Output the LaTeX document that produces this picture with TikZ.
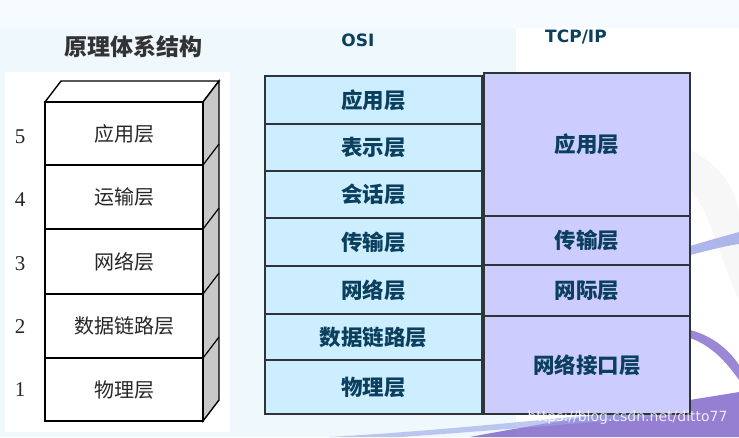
\documentclass[tikz,border=0pt]{standalone}
\usepackage{fontspec}
\newfontfamily\cjk{Noto Sans CJK SC}
\newfontfamily\latin{DejaVu Sans}
\newfontfamily\serifnum{Liberation Serif}
\definecolor{bgblue}{HTML}{EEF8FD}
\definecolor{osifill}{HTML}{CCEEFF}
\definecolor{tcpfill}{HTML}{CCCCFF}
\definecolor{txtdark}{HTML}{0B3F5E}
\definecolor{edgegray}{HTML}{2E3438}
\definecolor{sidegray}{HTML}{C8C8C8}
\definecolor{swoosha}{HTML}{9AA6E6}
\definecolor{swooshb}{HTML}{7B5FC9}
\tikzset{
  osibox/.style={draw=edgegray, line width=1.1pt, fill=osifill, minimum width=217pt, inner sep=0pt,
     font=\cjk\bfseries\fontsize{21.5}{21.5}\selectfont, text=txtdark},
  tcpbox/.style={draw=edgegray, line width=1.1pt, fill=tcpfill, minimum width=206pt, inner sep=0pt,
     font=\cjk\bfseries\fontsize{21.5}{21.5}\selectfont, text=txtdark},
  layerbox/.style={draw=black, line width=1.4pt, fill=white, minimum width=158pt, inner sep=0pt,
     font=\cjk\fontsize{20}{20}\selectfont, text=black!85},
  numlbl/.style={font=\serifnum\fontsize{21}{21}\selectfont, text=black!85},
  header/.style={font=\latin\bfseries\fontsize{17}{17}\selectfont, text=txtdark}
}
\begin{document}
\begin{tikzpicture}[x=1pt,y=-1pt]
\useasboundingbox (0,0) rectangle (739,437);
% background
\fill[bgblue] (0,0) rectangle (739,437);
\fill[white!40!bgblue] (0,0) rectangle (739,28);
\fill[white] (516,28) rectangle (739,437);
\fill[black!3] (690,150) .. controls (730,170) and (739,200) .. (739,220) -- (739,300) .. controls (720,260) and (710,210) .. (690,190) -- cycle;
% swooshes
\fill[swoosha, opacity=0.8] (690,246) .. controls (710,240) and (725,236) .. (739,232) -- (739,244) .. controls (725,246) and (710,250) .. (690,255) -- cycle;
\fill[swooshb, opacity=0.75] (690,330) .. controls (710,335) and (728,348) .. (739,365) -- (739,380) .. controls (725,360) and (710,345) .. (690,338) -- cycle;
\fill[swooshb, opacity=0.8] (470,437) .. controls (560,420) and (660,405) .. (739,392) -- (739,437) -- cycle;
\fill[swoosha, opacity=0.6] (330,437) .. controls (450,430) and (560,418) .. (690,405) -- (690,414) .. controls (560,425) and (460,433) .. (400,437) -- cycle;

% left: principle architecture
\node[font=\cjk\bfseries\fontsize{23}{23}\selectfont, text=black!80] (title) at (133,47) {原理体系结构};
\fill[white] (5,72) rectangle (230,432);
\filldraw[fill=white, draw=black, line width=1.4pt] (45,102) -- (61,81) -- (219,81) -- (203,102) -- cycle;
\filldraw[fill=sidegray, draw=black, line width=1.4pt] (203,102) -- (219,81) -- (219,400) -- (203,421) -- cycle;
\foreach \yy in {165,229,294,358}{
  \draw[black, line width=1.2pt] (203,\yy) -- (219,\yy-21);
}
\node[layerbox, minimum height=63pt] (r5) at (124,133.5) {应用层};
\node[layerbox, minimum height=64pt] (r4) at (124,197) {运输层};
\node[layerbox, minimum height=65pt] (r3) at (124,261.5) {网络层};
\node[layerbox, minimum height=64pt] (r2) at (124,326) {数据链路层};
\node[layerbox, minimum height=63pt] (r1) at (124,389.5) {物理层};
\node[numlbl] (n5) at (20,137) {5};
\node[numlbl] (n4) at (20,200) {4};
\node[numlbl] (n3) at (20,264) {3};
\node[numlbl] (n2) at (20,327) {2};
\node[numlbl] (n1) at (20,390) {1};

% OSI
\node[header] (osi) at (358,40) {OSI};
\node[osibox, minimum height=48pt] (o7) at (373.5,100) {应用层};
\node[osibox, minimum height=47pt] (o6) at (373.5,147.5) {表示层};
\node[osibox, minimum height=47pt] (o5) at (373.5,194.5) {会话层};
\node[osibox, minimum height=48pt] (o4) at (373.5,242) {传输层};
\node[osibox, minimum height=48pt] (o3) at (373.5,290) {网络层};
\node[osibox, minimum height=46pt] (o2) at (373.5,337) {数据链路层};
\node[osibox, minimum height=54pt] (o1) at (373.5,387) {物理层};

% TCP/IP
\node[header] (tcp) at (576,37) {TCP/IP};
\node[tcpbox, minimum height=143pt] (t4) at (587,144.5) {应用层};
\node[tcpbox, minimum height=49pt] (t3) at (587,240.5) {传输层};
\node[tcpbox, minimum height=51pt] (t2) at (587,290.5) {网际层};
\node[tcpbox, minimum height=98pt] (t1) at (587,365) {网络接口层};

% watermark
\node[font=\latin\fontsize{14}{14}\selectfont, text=white, opacity=0.85, anchor=east] (wm) at (731,418) {https://blog.csdn.net/ditto77};
\end{tikzpicture}
\end{document}
